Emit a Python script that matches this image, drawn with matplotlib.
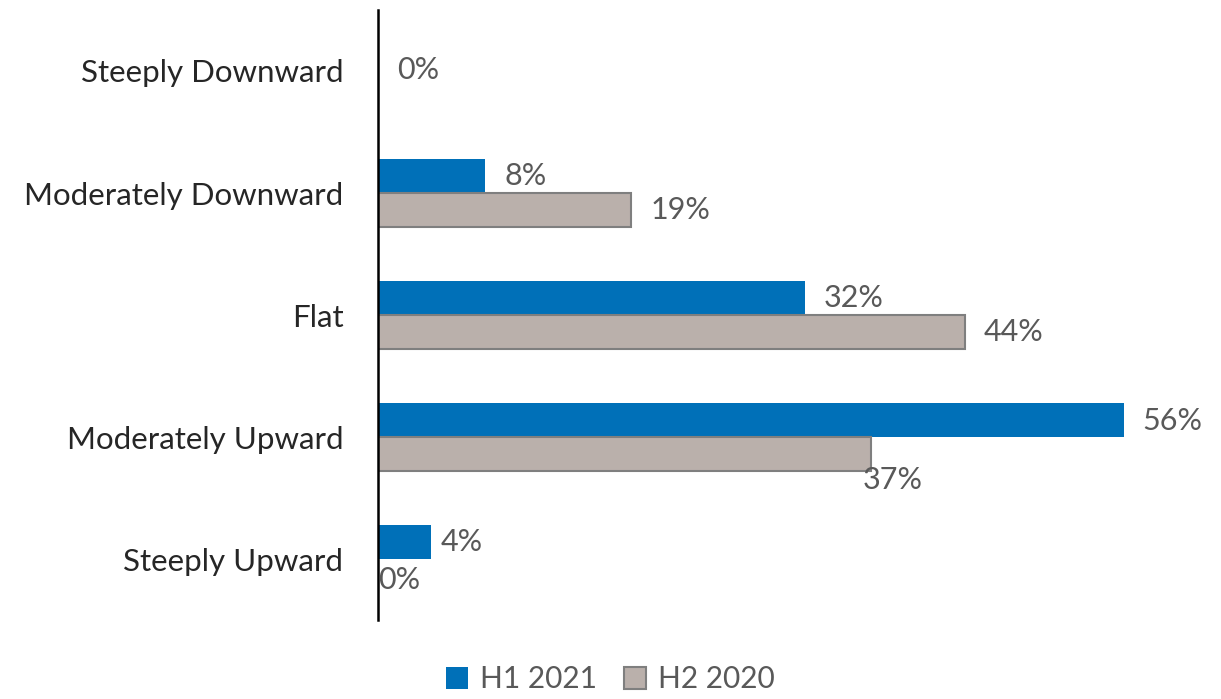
import numpy as np
import matplotlib.pyplot as plt

plt.rcParams['font.family'] = ['Lato', 'DejaVu Sans']

categories = ["Steeply Downward", "Moderately Downward", "Flat",
              "Moderately Upward", "Steeply Upward"]
h1_2021 = [0, 8, 32, 56, 4]
h2_2020 = [None, 19, 44, 37, 0]   # no value shown for the top row

# label offsets (points) for each bar label, dx, dy
h1_offsets = [(14, 1), (14, 0), (14, 0), (13, -1), (7, 0)]
h2_offsets = [(0, 0), (14, 0), (14, 0), (-6, -19), (0, -3)]

BLUE = "#0070B8"
GREY = "#BAB0AB"
EDGE = "#7F7F7F"
TXT = "#595959"

fig = plt.figure(figsize=(12.21, 6.99), dpi=100)
ax = fig.add_axes([0.3096, 0.113, 0.655, 0.8727])

y = np.arange(len(categories))[::-1]
h = 0.28

h2_vals = [v if v is not None else 0 for v in h2_2020]
ax.barh(y + h / 2, h1_2021, height=h, color=BLUE, label="H1 2021")
ax.barh(y - h / 2, h2_vals, height=h, color=GREY, edgecolor=EDGE,
        linewidth=1.5, label="H2 2020")

for yi, v, (dx, dy) in zip(y, h1_2021, h1_offsets):
    yy = yi if v == 0 else yi + h / 2
    ax.annotate(f"{v}%", (v, yy), xytext=(dx, dy), textcoords="offset points",
                ha="left", va="center", fontsize=22, color=TXT,
                annotation_clip=False)
for yi, v, (dx, dy) in zip(y, h2_2020, h2_offsets):
    if v is None:
        continue
    ax.annotate(f"{v}%", (v, yi - h / 2), xytext=(dx, dy),
                textcoords="offset points", ha="left", va="center",
                fontsize=22, color=TXT, annotation_clip=False)

ax.set_xlim(0, 60)
ax.set_ylim(-0.5, 4.5)
ax.set_yticks(y)
ax.set_yticklabels(categories, fontsize=22.5, color="#262626")
ax.tick_params(axis="y", length=0, pad=25)
ax.set_xticks([])
for s in ["top", "right", "bottom"]:
    ax.spines[s].set_visible(False)
ax.spines["left"].set_linewidth(1.8)
ax.spines["left"].set_color("black")

fig.legend(loc="lower center", bbox_to_anchor=(0.5, -0.03), ncol=2,
           frameon=False, fontsize=21.5, labelcolor=TXT, handlelength=0.75,
           handleheight=0.75, handletextpad=0.4, columnspacing=0.9)

fig.savefig("out.png", dpi=100)
